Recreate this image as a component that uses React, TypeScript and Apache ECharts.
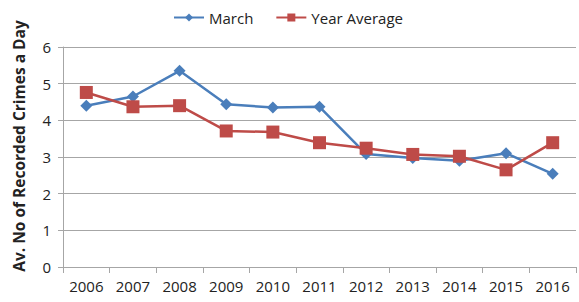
import React, { useEffect, useRef } from "react";
import * as echarts from "echarts";

const categories = ["2006", "2007", "2008", "2009", "2010", "2011", "2012", "2013", "2014", "2015", "2016"];
const marchValues = [4.4, 4.65, 5.35, 4.44, 4.35, 4.37, 3.08, 2.97, 2.9, 3.1, 2.54];
const yearAverageValues = [4.76, 4.37, 4.4, 3.71, 3.68, 3.39, 3.24, 3.07, 3.02, 2.65, 3.39];
const yTitle = "Av. No of Recorded Crimes a Day";

export default function App() {
  const ref = useRef<HTMLDivElement>(null);
  useEffect(() => {
    document.body.style.margin = "0";
    const chart = echarts.init(ref.current!, null, { renderer: "svg" });
    const font = "'Open Sans', sans-serif";
    chart.setOption({
      animation: false,
      backgroundColor: "#ffffff",
      textStyle: { fontFamily: font },
      legend: {
        top: 5,
        left: 168,
        itemGap: 22,
        itemWidth: 30,
        itemHeight: 10,
        textStyle: { fontSize: 15, color: "#222", fontFamily: font },
        data: [{ name: "March" }, { name: "Year Average" }],
      },
      graphic: [
        {
          type: "text",
          x: 19,
          y: 146,
          rotation: Math.PI / 2,
          style: {
            text: yTitle,
            fontSize: 15.5,
            fontWeight: "bold",
            fill: "#222",
            fontFamily: font,
            textAlign: "center",
            textVerticalAlign: "middle",
          },
        },
      ],
      grid: { left: 63, right: 3, top: 47, bottom: 35 },
      xAxis: {
        type: "category",
        data: categories,
        boundaryGap: true,
        axisLine: { lineStyle: { color: "#a6a6a6", width: 1 } },
        axisTick: { show: true, alignWithLabel: false, length: 6, lineStyle: { color: "#a6a6a6" } },
        axisLabel: { fontSize: 15, color: "#222", margin: 11, fontFamily: font },
      },
      yAxis: {
        type: "value",
        min: 0,
        max: 6,
        interval: 1,
        axisLine: { show: true, lineStyle: { color: "#a6a6a6" } },
        axisTick: { show: true, length: 5, lineStyle: { color: "#a6a6a6" } },
        axisLabel: { fontSize: 15, color: "#222", margin: 12, fontFamily: font },
        splitLine: { lineStyle: { color: "#a6a6a6", width: 1 } },
      },
      series: [
        {
          name: "March",
          type: "line",
          data: marchValues,
          symbol: "diamond",
          symbolSize: 12,
          lineStyle: { color: "#4a7ebb", width: 2.5 },
          itemStyle: { color: "#4a7ebb" },
        },
        {
          name: "Year Average",
          type: "line",
          data: yearAverageValues,
          symbol: "rect",
          symbolSize: 13,
          lineStyle: { color: "#be4b48", width: 2.5 },
          itemStyle: { color: "#be4b48" },
        },
      ],
    });
    return () => chart.dispose();
  }, []);
  return <div ref={ref} style={{ width: 579, height: 302 }} />;
}
